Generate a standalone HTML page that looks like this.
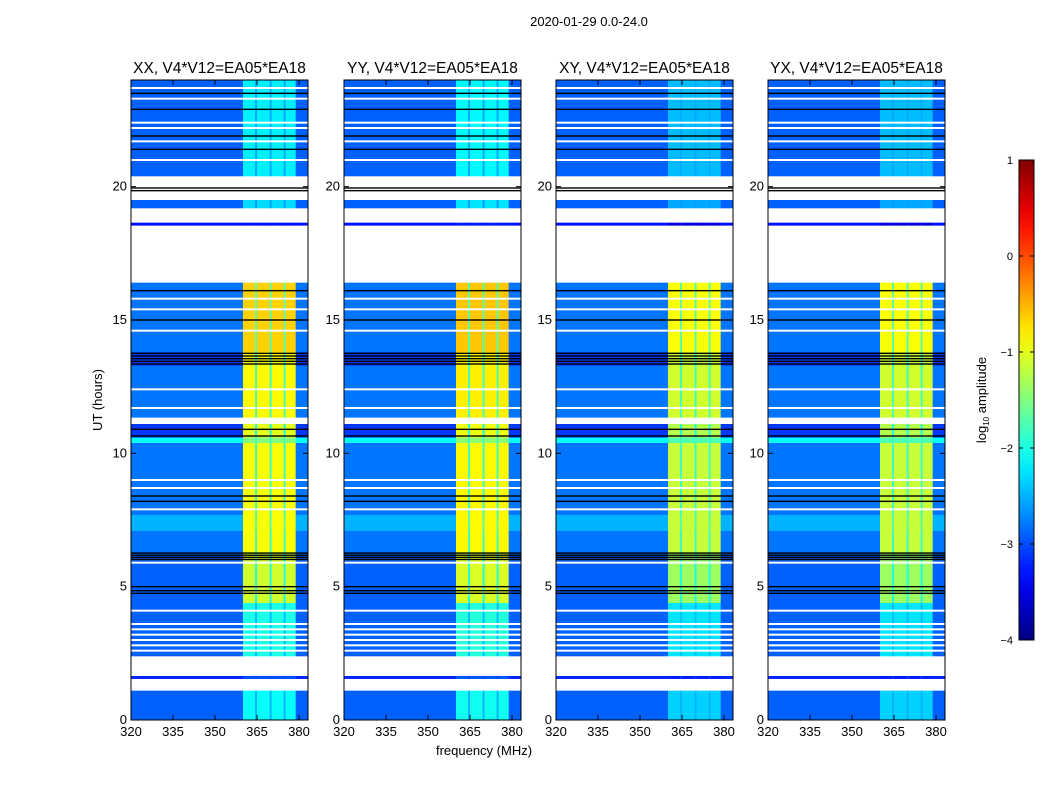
<!DOCTYPE html>
<html><head><meta charset="utf-8"><style>
body{margin:0;background:#fff;font-family:"Liberation Sans",sans-serif}
</style></head><body>
<svg id="s" width="1050" height="800" xmlns="http://www.w3.org/2000/svg" font-family="Liberation Sans, sans-serif">
<text x="589" y="26" font-size="13" text-anchor="middle">2020-01-29 0.0-24.0</text>
<text x="484" y="755" font-size="13" text-anchor="middle">frequency (MHz)</text>
<text transform="translate(102,400) rotate(-90)" font-size="13" text-anchor="middle">UT (hours)</text>
<g id="panels"></g>
<g id="cbar"></g>
</svg>
<script>
const panelTitles=["XX, V4*V12=EA05*EA18","YY, V4*V12=EA05*EA18","XY, V4*V12=EA05*EA18","YX, V4*V12=EA05*EA18"];
const panelLefts=[131,344,556,768];
const rfiOffset=[0,0.05,-0.25,-0.25];
// time segments: start hour, end hour, background log amp, rfi-band log amp (null = flagged)
const segStart=[0,1.1,1.55,1.65,2.4,4.4,6.3,7.1,7.7,10.4,10.6,11.1,11.35,13.3,13.8,16.4,18.55,18.65,19.2,19.5,20.4];
const segEnd=[1.1,1.55,1.65,2.4,4.4,6.3,7.1,7.7,10.4,10.6,11.1,11.35,13.3,13.8,16.4,18.55,18.65,19.2,19.5,20.4,24];
const segBg=[-2.9,null,-3.2,null,-2.9,-2.9,-2.8,-2.5,-2.8,-2.1,-3.1,null,-2.8,-3.1,-2.8,null,-3.3,null,-2.9,null,-2.9];
const segRfi=[-2.1,null,-3.0,null,-2.0,-1.1,-0.9,-0.9,-0.9,-1.5,-1.0,null,-0.85,-0.9,-0.65,null,-3.3,null,-2.3,null,-2.2];
// frequency bands (MHz): start, end, is RFI region (1), dip (2), background (0)
const bandStart=[320,360,364.3,365,369.5,370.2,374.5,375.2,378.8];
const bandEnd=[360,364.3,365,369.5,370.2,374.5,375.2,378.8,383.2];
const bandType=[0,1,2,1,2,1,2,1,0];
const blackLines=[4.75,4.85,5.0,6.02,6.1,6.18,6.26,8.2,8.4,10.65,10.9,13.35,13.45,13.55,13.65,13.75,15.0,16.1,19.85,19.95,21.4,21.9,22.9,23.5];
const whiteLines=[2.6,2.8,3.0,3.2,3.4,3.6,4.1,5.9,7.9,8.7,9.0,11.7,12.4,14.6,15.4,15.8,21.0,21.7,22.2,22.4,23.3,23.7];
const yTicks=[0,5,10,15,20];
const xTicks=[320,335,350,365,380];
const cbTicks=[1,0,-1,-2,-3,-4];

const NS="http://www.w3.org/2000/svg";
const top0=80,bot0=720,pw=177,fmin=320,fmax=383.2,tmax=24;
function yS(t){return bot0-(t/tmax)*(bot0-top0);}
function xS(p,f){return panelLefts[p]+(f-fmin)/(fmax-fmin)*pw;}
function jet(v){let t=(v+4)/5;t=Math.max(0,Math.min(1,t));
 const r=Math.min(1,Math.max(0,1.5-Math.abs(4*t-3))),g=Math.min(1,Math.max(0,1.5-Math.abs(4*t-2))),b=Math.min(1,Math.max(0,1.5-Math.abs(4*t-1)));
 return `rgb(${Math.round(r*255)},${Math.round(g*255)},${Math.round(b*255)})`;}
function mk(tag,attrs,parent){const e=document.createElementNS(NS,tag);for(const k in attrs)e.setAttribute(k,attrs[k]);parent.appendChild(e);return e;}
const root=document.getElementById('panels');
for(let p=0;p<4;p++){
 const g=mk('g',{},root);
 
 
 for(let s=0;s<segStart.length;s++){
  if(segBg[s]===null)continue;
  for(let b=0;b<bandStart.length;b++){
   let v=bandType[b]===1?segRfi[s]+rfiOffset[p]:bandType[b]===2?(segBg[s]+segRfi[s])/2:segBg[s];
   const r=mk('rect',{x:xS(p,bandStart[b]),y:yS(segEnd[s]),width:xS(p,bandEnd[b])-xS(p,bandStart[b])+0.3,height:yS(segStart[s])-yS(segEnd[s])+0.3,fill:jet(v)},g);
   
   
  }
 }
 for(const h of blackLines){const r=mk('rect',{x:panelLefts[p],y:yS(h)-0.7,width:pw,height:1.4,fill:'#000'},g);
  
  }
 for(const h of whiteLines){const r=mk('rect',{x:panelLefts[p],y:yS(h)-1,width:pw,height:2,fill:'#fff'},g);
  
  }
 const fr=mk('rect',{x:panelLefts[p],y:top0,width:pw,height:bot0-top0,fill:'none',stroke:'#000','stroke-width':1},g);
 
 
 const tt=mk('text',{x:panelLefts[p]+pw/2,y:73,'font-size':15.5,'text-anchor':'middle'},g);tt.textContent=panelTitles[p];
 
 
 for(const t of yTicks){const y=yS(t);
  mk('line',{x1:panelLefts[p],x2:panelLefts[p]+5,y1:y,y2:y,stroke:'#000'},g);
  mk('line',{x1:panelLefts[p]+pw-5,x2:panelLefts[p]+pw,y1:y,y2:y,stroke:'#000'},g);
  const l=mk('text',{x:panelLefts[p]-4,y:y+4,'font-size':13,'text-anchor':'end'},g);l.textContent=t;
  
  }
 for(const f of xTicks){const x=xS(p,f);
  mk('line',{x1:x,x2:x,y1:bot0,y2:bot0-5,stroke:'#000'},g);
  mk('line',{x1:x,x2:x,y1:top0,y2:top0+5,stroke:'#000'},g);
  const l=mk('text',{x:x,y:bot0+16,'font-size':13,'text-anchor':'middle'},g);l.textContent=f;
  
  }
}
const cb=document.getElementById('cbar');
const cbT=160,cbB=640,cbX=1019,cbW=15;
const defs=mk('defs',{},cb);const lg=mk('linearGradient',{id:'jg',x1:0,y1:1,x2:0,y2:0},defs);
for(let i=0;i<=20;i++){mk('stop',{offset:i/20,'stop-color':jet(-4+5*i/20)},lg);}
mk('rect',{x:cbX,y:cbT,width:cbW,height:cbB-cbT,fill:'url(#jg)',stroke:'#000'},cb);
for(const v of cbTicks){const y=cbB-(v+4)/5*(cbB-cbT);
 mk('line',{x1:cbX,x2:cbX+4,y1:y,y2:y,stroke:'#000'},cb);mk('line',{x1:cbX+cbW-4,x2:cbX+cbW,y1:y,y2:y,stroke:'#000'},cb);
 const l=mk('text',{x:cbX-6,y:y+4,'font-size':11,'text-anchor':'end'},cb);l.textContent=v<0?'\u2212'+(-v):v;
 
 }
const ct=mk('text',{transform:'translate(986,400) rotate(-90)','font-size':13,'text-anchor':'middle'},cb);
ct.innerHTML='log<tspan font-size="8" dy="3">10</tspan><tspan dy="-3"> amplitude</tspan>';


</script>
</body></html>
